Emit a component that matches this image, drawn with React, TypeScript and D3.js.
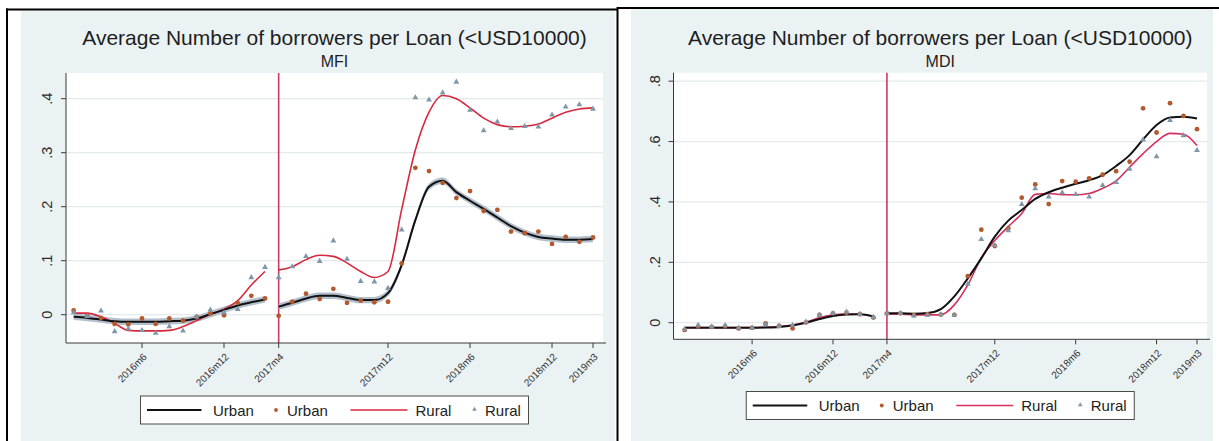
import React from "react";
import * as d3 from "d3";

// Monthly index: 0 = 2016m1 ... 38 = 2019m3; the policy break is at 2017m4.
const monthCount = 39;
const breakMonth = 15;
const tickMonths = [5, 11, 15, 23, 29, 35, 38];
const tickLabels = ["2016m6", "2016m12", "2017m4", "2017m12", "2018m6", "2018m12", "2019m3"];

const titleText = "Average Number of borrowers per Loan (<USD10000)";

const mfiYTicks = [0, 0.1, 0.2, 0.3, 0.4];
const mfiYLabels = ["0", ".1", ".2", ".3", ".4"];
const mdiYTicks = [0, 0.2, 0.4, 0.6, 0.8];
const mdiYLabels = ["0", ".2", ".4", ".6", ".8"];

// MFI: monthly means and local fits
const mfiUrbanPoints = [
  0.008, -0.002, -0.006, -0.017, -0.018, -0.007, -0.017, -0.007, -0.011, -0.004, 0.002, -0.001, 0.022, 0.035, 0.030,
  -0.002, 0.024, 0.039, 0.029, 0.048, 0.022, 0.026, 0.023, 0.024, 0.095, 0.272, 0.266, 0.244, 0.216, 0.229, 0.192,
  0.194, 0.154, 0.151, 0.154, 0.131, 0.144, 0.135, 0.143,
];
const mfiRuralPoints = [
  0.004, -0.003, 0.007, -0.031, -0.026, -0.029, -0.034, -0.022, -0.030, -0.004, 0.009, 0.004, 0.010, 0.069, 0.088,
  0.069, 0.089, 0.108, 0.099, 0.137, 0.103, 0.062, 0.061, 0.049, 0.157, 0.402, 0.398, 0.411, 0.431, 0.379, 0.341,
  0.357, 0.345, 0.349, 0.348, 0.370, 0.385, 0.389, 0.381,
];
const mfiUrbanFit = [
  -0.004, -0.006, -0.009, -0.012, -0.013, -0.013, -0.013, -0.012, -0.011, -0.007, 0.001, 0.009, 0.017, 0.023, 0.028,
  0.015, 0.022, 0.030, 0.035, 0.035, 0.031, 0.027, 0.027, 0.040, 0.092, 0.175, 0.237, 0.248, 0.227, 0.211, 0.196,
  0.180, 0.164, 0.152, 0.144, 0.141, 0.139, 0.139, 0.140,
];
const mfiRuralFit = [
  0.003, 0.003, -0.004, -0.016, -0.029, -0.030, -0.030, -0.029, -0.022, -0.011, 0.001, 0.010, 0.026, 0.055, 0.080,
  0.083, 0.089, 0.102, 0.110, 0.108, 0.096, 0.080, 0.069, 0.080, 0.195, 0.305, 0.375, 0.406, 0.400, 0.383, 0.364,
  0.352, 0.348, 0.349, 0.353, 0.364, 0.375, 0.381, 0.383,
];
const mfiUrbanCiHalfWidth = 0.006;

// MDI: monthly means and local fits
const mdiUrbanPoints = [
  -0.024, -0.013, -0.014, -0.012, -0.019, -0.017, -0.002, -0.011, -0.019, 0.001, 0.026, 0.031, 0.033, 0.028, 0.017,
  0.031, 0.031, 0.025, 0.028, 0.027, 0.026, 0.154, 0.308, 0.254, 0.312, 0.414, 0.458, 0.393, 0.469, 0.467, 0.478,
  0.490, 0.502, 0.533, 0.710, 0.630, 0.727, 0.685, 0.641,
];
const mdiRuralPoints = [
  -0.022, -0.008, -0.014, -0.009, -0.017, -0.017, -0.006, -0.011, -0.008, 0.003, 0.025, 0.031, 0.036, 0.028, 0.018,
  0.030, 0.031, 0.023, 0.025, 0.027, 0.025, 0.128, 0.276, 0.256, 0.305, 0.392, 0.444, 0.417, 0.431, 0.425, 0.417,
  0.455, 0.465, 0.509, 0.606, 0.550, 0.670, 0.620, 0.571,
];
const mdiUrbanFit = [
  -0.017, -0.017, -0.017, -0.017, -0.017, -0.017, -0.016, -0.014, -0.009, 0.000, 0.012, 0.022, 0.027, 0.028, 0.021,
  0.031, 0.031, 0.030, 0.032, 0.045, 0.087, 0.147, 0.213, 0.285, 0.338, 0.373, 0.410, 0.432, 0.447, 0.460, 0.472,
  0.489, 0.519, 0.555, 0.607, 0.655, 0.680, 0.682, 0.676,
];
const mdiRuralFit = [
  -0.016, -0.016, -0.016, -0.016, -0.016, -0.016, -0.015, -0.013, -0.008, 0.002, 0.017, 0.026, 0.029, 0.028, 0.021,
  0.028, 0.028, 0.026, 0.026, 0.026, 0.059, 0.125, 0.215, 0.272, 0.318, 0.362, 0.425, 0.428, 0.424, 0.424, 0.428,
  0.445, 0.470, 0.515, 0.560, 0.600, 0.627, 0.624, 0.587,
];

const FONT = "'Liberation Sans', Arial, Helvetica, sans-serif";
const BG = "#eaf2f3";
const GRID = "#e3eaec";
const AXIS = "#3a3a3a";
const URBAN_LINE = "#111111";
const URBAN_DOT = "#b4582e";
const RURAL_TRI = "#7f97a8";
const BAND = "#a4b4c4";
const BREAK_LINE = "#cc3b5e";

type PanelSpec = {
  subtitle: string;
  left: number;
  right: number;
  top: number;
  bottom: number;
  xDomain: [number, number];
  yDomain: [number, number];
  yTicks: number[];
  yLabels: string[];
  urbanPoints: number[];
  ruralPoints: number[];
  urbanFit: number[];
  ruralFit: number[];
  ruralColor: string;
  band: number | null;
  legendY: number;
};

const months = d3.range(monthCount);

function segments(vals: number[]): [number, number][][] {
  return [
    months.slice(0, breakMonth).map((m) => [m, vals[m]] as [number, number]),
    months.slice(breakMonth).map((m) => [m, vals[m]] as [number, number]),
  ];
}

function Panel({ p }: { p: PanelSpec }) {
  const x = d3.scaleLinear().domain(p.xDomain).range([p.left, p.right]);
  const y = d3.scaleLinear().domain(p.yDomain).range([p.bottom, p.top]);
  const line = d3
    .line<[number, number]>()
    .x((d) => x(d[0]))
    .y((d) => y(d[1]))
    .curve(d3.curveMonotoneX);
  const band = d3
    .area<[number, number]>()
    .x((d) => x(d[0]))
    .y0((d) => y(d[1] - (p.band ?? 0)))
    .y1((d) => y(d[1] + (p.band ?? 0)))
    .curve(d3.curveMonotoneX);
  const tri = d3.symbol().type(d3.symbolTriangle).size(15)() as string;
  const triSmall = d3.symbol().type(d3.symbolTriangle).size(9)() as string;
  const cx = (p.left + p.right) / 2;
  const lx = cx - 194;
  const ly = p.legendY;
  const lmid = ly + 14;

  return (
    <g>
      <text x={cx} y={45} textAnchor="middle" fontSize={21} fill="#1e1e1e" fontFamily={FONT}>
        {titleText}
      </text>
      <text x={cx} y={66.5} textAnchor="middle" fontSize={16} fill="#1e1e1e" fontFamily={FONT}>
        {p.subtitle}
      </text>
      <rect x={p.left} y={p.top} width={p.right - p.left} height={p.bottom - p.top} fill="#ffffff" />
      {p.yTicks.map((t) => (
        <line key={"g" + t} x1={p.left} x2={p.right} y1={y(t)} y2={y(t)} stroke={GRID} strokeWidth={1.2} />
      ))}
      {/* break line at 2017m4 */}
      <line x1={x(breakMonth)} x2={x(breakMonth)} y1={p.top} y2={p.bottom} stroke={BREAK_LINE} strokeWidth={1.6} />
      {p.band !== null &&
        segments(p.urbanFit).map((s, i) => <path key={"b" + i} d={band(s) ?? ""} fill={BAND} opacity={0.85} />)}
      {segments(p.ruralFit).map((s, i) => (
        <path key={"r" + i} d={line(s) ?? ""} fill="none" stroke={p.ruralColor} strokeWidth={1.6} />
      ))}
      {segments(p.urbanFit).map((s, i) => (
        <path key={"u" + i} d={line(s) ?? ""} fill="none" stroke={URBAN_LINE} strokeWidth={2} />
      ))}
      {months.map((m) => (
        <circle key={"ud" + m} cx={x(m)} cy={y(p.urbanPoints[m])} r={2.4} fill={URBAN_DOT} />
      ))}
      {months.map((m) => (
        <path
          key={"rt" + m}
          d={tri}
          transform={`translate(${x(m)},${y(p.ruralPoints[m])})`}
          fill={RURAL_TRI}
        />
      ))}
      {/* axes */}
      <line x1={p.left} x2={p.left} y1={p.top} y2={p.bottom} stroke={AXIS} strokeWidth={1} />
      <line x1={p.left} x2={p.right + 3} y1={p.bottom} y2={p.bottom} stroke={AXIS} strokeWidth={1} />
      {p.yTicks.map((t, i) => (
        <g key={"yt" + t}>
          <line x1={p.left - 5} x2={p.left} y1={y(t)} y2={y(t)} stroke={AXIS} strokeWidth={1} />
          <text
            transform={`translate(${p.left - 14},${y(t)}) rotate(-90)`}
            textAnchor="middle"
            fontSize={14.5}
            fill="#2a2a2a"
            fontFamily={FONT}
          >
            {p.yLabels[i]}
          </text>
        </g>
      ))}
      {tickMonths.map((m, i) => (
        <g key={"xt" + m}>
          <line x1={x(m)} x2={x(m)} y1={p.bottom} y2={p.bottom + 5} stroke={AXIS} strokeWidth={1} />
          <text
            transform={`translate(${x(m) + 3},${p.bottom + 12}) rotate(-45)`}
            textAnchor="end"
            dy="0.35em"
            fontSize={10}
            fill="#333"
            fontFamily={FONT}
          >
            {tickLabels[i]}
          </text>
        </g>
      ))}
      {/* legend */}
      <rect x={lx} y={ly} width={388} height={28} fill="#ffffff" stroke="#4a4a4a" strokeWidth={1} />
      <line x1={lx + 6.5} x2={lx + 61} y1={lmid} y2={lmid} stroke={URBAN_LINE} strokeWidth={2} />
      <text x={lx + 72.5} y={lmid + 5.5} fontSize={15} fill="#222" fontFamily={FONT}>
        Urban
      </text>
      <circle cx={lx + 135.5} cy={lmid} r={1.9} fill={URBAN_DOT} />
      <text x={lx + 146.5} y={lmid + 5.5} fontSize={15} fill="#222" fontFamily={FONT}>
        Urban
      </text>
      <line x1={lx + 210} x2={lx + 267} y1={lmid} y2={lmid} stroke={p.ruralColor} strokeWidth={1.6} />
      <text x={lx + 275} y={lmid + 5.5} fontSize={15} fill="#222" fontFamily={FONT}>
        Rural
      </text>
      <path d={triSmall} transform={`translate(${lx + 334},${lmid - 0.5})`} fill={RURAL_TRI} />
      <text x={lx + 344.5} y={lmid + 5.5} fontSize={15} fill="#222" fontFamily={FONT}>
        Rural
      </text>
    </g>
  );
}

const mfiPanel: PanelSpec = {
  subtitle: "MFI",
  left: 66,
  right: 603,
  top: 73,
  bottom: 343,
  xDomain: [-0.56, 38.73],
  yDomain: [-0.0524, 0.4476],
  yTicks: mfiYTicks,
  yLabels: mfiYLabels,
  urbanPoints: mfiUrbanPoints,
  ruralPoints: mfiRuralPoints,
  urbanFit: mfiUrbanFit,
  ruralFit: mfiRuralFit,
  ruralColor: "#d8283e",
  band: mfiUrbanCiHalfWidth,
  legendY: 396,
};

const mdiPanel: PanelSpec = {
  subtitle: "MDI",
  left: 673.5,
  right: 1207,
  top: 72.7,
  bottom: 339.3,
  xDomain: [-0.83, 38.74],
  yDomain: [-0.055, 0.828],
  yTicks: mdiYTicks,
  yLabels: mdiYLabels,
  urbanPoints: mdiUrbanPoints,
  ruralPoints: mdiRuralPoints,
  urbanFit: mdiUrbanFit,
  ruralFit: mdiRuralFit,
  ruralColor: "#d3305e",
  band: null,
  legendY: 391.5,
};

export default function App() {
  return (
    <svg
      width={1219}
      height={441}
      viewBox="0 0 1219 441"
      style={{ position: "absolute", left: 0, top: 0, display: "block", background: "#ffffff" }}
    >
      <rect x={0} y={0} width={1219} height={441} fill="#ffffff" />
      <rect x={21} y={10.5} width={594} height={431} fill={BG} />
      <rect x={631} y={9} width={582} height={432} fill={BG} />
      {/* outer frames */}
      <line x1={6} x2={617} y1={9.5} y2={9.5} stroke="#000" strokeWidth={2} />
      <line x1={617} x2={1219} y1={8} y2={8} stroke="#000" strokeWidth={2} />
      <line x1={7} x2={7} y1={8.5} y2={441} stroke="#000" strokeWidth={2} />
      <line x1={617.5} x2={617.5} y1={7} y2={441} stroke="#000" strokeWidth={2} />
      <Panel p={mfiPanel} />
      <Panel p={mdiPanel} />
    </svg>
  );
}
